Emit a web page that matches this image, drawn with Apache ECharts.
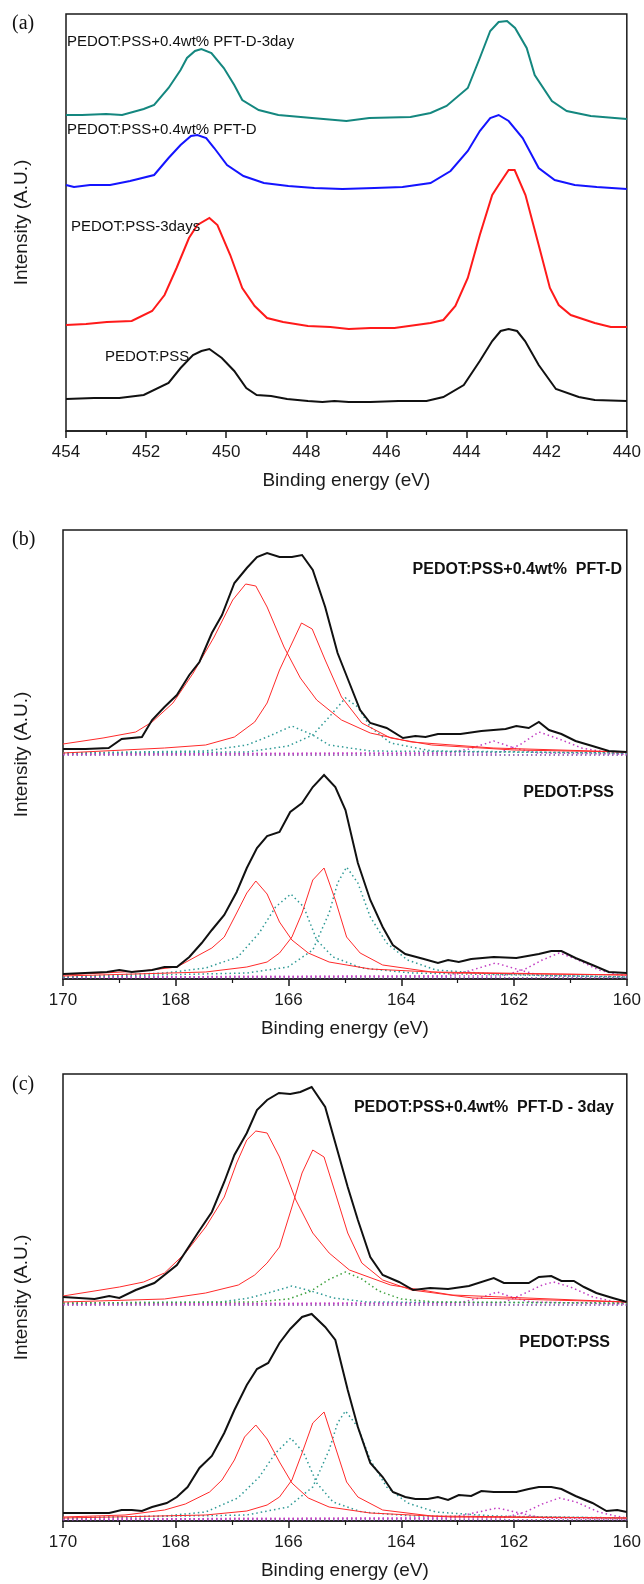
<!DOCTYPE html>
<html><head><meta charset="utf-8">
<script src="https://cdn.jsdelivr.net/npm/echarts@6/dist/echarts.min.js"></script>
<style>html,body{margin:0;padding:0;background:#fff}#c{width:644px;height:1584px}</style>
</head><body><div id="c"></div>
<script>
// ---------- Panel (a): Binding energy (eV) vs intensity (A.U.), offset spectra ----------
const A_black = [[454,32],[453.3,33],[452.67,33],[452.06,36],[451.44,48],[451.14,63],[450.83,76],[450.62,80],[450.42,82],[450.11,73],[449.8,60],[449.5,43],[449.24,36],[448.88,35],[448.48,32],[447.96,30],[447.6,29],[447.3,30],[446.94,29],[446.4,29],[445.7,30],[445.0,30],[444.58,34],[444.07,46],[443.67,70],[443.36,90],[443.15,100],[442.95,102],[442.74,100],[442.54,90],[442.2,66],[441.77,42],[441.2,34],[440.8,31],[440,30]];
const A_red = [[454,106],[453.5,107],[452.98,109],[452.36,110],[451.85,120],[451.54,136],[451.24,163],[450.93,193],[450.72,206],[450.42,213],[450.22,206],[449.9,176],[449.6,143],[449.29,125],[448.98,113],[448.58,109],[447.96,105],[447.4,104],[446.94,102],[446.4,103],[445.8,103],[444.9,108],[444.58,111],[444.28,125],[443.97,153],[443.67,196],[443.36,236],[443.2,246],[442.95,261],[442.8,261],[442.53,236],[442.2,186],[441.92,143],[441.7,126],[441.4,116],[440.8,108],[440.4,104],[440,104]];
const A_blue = [[454,246],[453.8,244],[453.4,246],[452.9,246],[452.4,250],[451.8,256],[451.44,273],[451.14,286],[450.88,295],[450.72,296],[450.5,293],[450.3,283],[449.98,266],[449.57,255],[449.06,248],[448.45,245],[447.8,243],[447.1,242],[446.3,243],[445.6,244],[444.9,248],[444.4,260],[443.97,280],[443.67,300],[443.41,313],[443.2,316],[442.95,310],[442.6,293],[442.2,263],[441.8,251],[441.3,246],[440.75,244],[440,242]];
const A_teal = [[454,316],[453.6,316],[453.0,317],[452.6,316],[452.06,322],[451.8,326],[451.44,343],[451.14,361],[450.98,373],[450.78,380],[450.62,382],[450.37,378],[450.06,363],[449.8,346],[449.6,331],[449.19,321],[448.7,316],[447.86,313],[447.0,310],[446.43,313],[445.4,314],[444.9,318],[444.5,325],[443.97,343],[443.67,373],[443.41,400],[443.2,409],[442.99,410],[442.79,403],[442.5,383],[442.3,356],[441.87,330],[441.5,320],[440.9,315],[440,312]];
const A_labels = ['PEDOT:PSS+0.4wt% PFT-D-3day','PEDOT:PSS+0.4wt% PFT-D','PEDOT:PSS-3days','PEDOT:PSS'];

// ---------- Panel (b): S 2p, upper = PEDOT:PSS+0.4wt% PFT-D, lower = PEDOT:PSS ----------
const B_up_black = [[170,230],[169.6,230],[169.19,231],[168.96,240],[168.6,242],[168.42,259],[168.2,272],[167.98,284],[167.76,304],[167.58,317],[167.36,346],[167.18,364],[166.96,396],[166.74,411],[166.56,422],[166.38,426],[166.16,422],[165.94,422],[165.76,424],[165.57,409],[165.35,372],[165.13,326],[164.92,296],[164.73,269],[164.55,256],[164.26,251],[163.97,241],[163.75,243],[163.57,242],[163.35,245],[162.95,245],[162.58,248],[162.15,250],[161.96,253],[161.74,251],[161.56,257],[161.38,249],[161.16,245],[160.91,238],[160.61,233],[160.32,228],[160,227]];
const B_up_red1 = [[170,235],[169.29,241],[168.71,247],[168.42,257],[168.05,276],[167.69,306],[167.32,342],[166.99,379],[166.76,395],[166.58,393],[166.38,372],[166.08,332],[165.79,301],[165.5,279],[165.06,259],[164.55,246],[163.82,237],[162.37,231],[160,227]];
const B_up_red2 = [[170,226],[168.2,231],[167.47,234],[166.96,242],[166.6,257],[166.38,276],[166.16,309],[165.97,332],[165.77,356],[165.58,350],[165.35,319],[165.06,282],[164.7,256],[164.19,241],[163.46,234],[162,229],[160,227]];
const B_up_tealA = [[170,226],[167.47,228],[166.74,234],[166.38,242],[165.94,253],[165.57,244],[165.28,234],[164.55,228],[160,226]];
const B_up_tealB = [[170,226],[166.74,227],[166.01,233],[165.57,244],[165.28,262],[164.99,281],[164.77,272],[164.55,252],[164.19,236],[163.46,228],[160,226]];
const B_up_mag1 = [[170,225],[163.2,226],[162.8,230],[162.36,238],[162.0,231],[161.6,226],[160,225]];
const B_up_mag2 = [[170,225],[162.3,226],[161.9,234],[161.56,247],[161.2,240],[160.8,231],[160.4,227],[160,225]];
const B_up_base = [[170,224],[160,224]];
const B_lo_black = [[170,5],[169.22,7],[169.0,9],[168.78,7],[168.42,9],[168.2,12],[167.98,12],[167.76,22],[167.54,36],[167.36,49],[167.14,64],[166.92,87],[166.74,111],[166.56,131],[166.38,143],[166.16,147],[165.97,167],[165.76,176],[165.57,192],[165.37,204],[165.17,192],[164.99,169],[164.77,116],[164.55,79],[164.33,52],[164.15,34],[163.93,25],[163.6,20],[163.35,16],[163.17,19],[162.98,17],[162.76,20],[162.36,22],[161.96,21],[161.56,25],[161.34,28],[161.16,28],[160.91,21],[160.61,14],[160.32,7],[160,6]];
const B_lo_red1 = [[170,4],[168.6,8],[167.98,12],[167.36,31],[167.14,42],[166.92,66],[166.74,86],[166.58,98],[166.38,85],[166.16,57],[165.94,39],[165.65,26],[165.28,17],[164.55,10],[163.1,6],[160,4]];
const B_lo_red2 = [[170,3],[167.47,7],[166.74,12],[166.38,17],[166.16,26],[165.94,42],[165.76,66],[165.57,99],[165.37,111],[165.17,79],[164.97,42],[164.73,26],[164.33,14],[163.46,7],[160,4]];
const B_lo_tealA = [[170,2],[168.2,6],[167.47,11],[166.9,22],[166.52,46],[166.23,72],[165.96,85],[165.73,72],[165.5,39],[165.21,22],[164.7,11],[163.82,6],[160,2]];
const B_lo_tealB = [[170,2],[166.74,6],[166.01,12],[165.57,29],[165.28,66],[165.13,96],[164.97,112],[164.77,96],[164.55,62],[164.26,36],[163.89,19],[163.39,9],[162.36,5],[160,2]];
const B_lo_mag1 = [[170,2],[163.2,3],[162.8,8],[162.33,16],[161.9,9],[161.5,3],[160,2]];
const B_lo_mag2 = [[170,2],[162.2,3],[161.8,10],[161.5,19],[161.2,26],[160.9,20],[160.5,9],[160.2,5],[160,3]];
const B_lo_base = [[170,1],[160,1]];
const B_labels = ['PEDOT:PSS+0.4wt%  PFT-D','PEDOT:PSS'];

// ---------- Panel (c): upper = PEDOT:PSS+0.4wt% PFT-D - 3day, lower = PEDOT:PSS ----------
const C_up_black = [[170,224],[169.44,222],[169.18,225],[169.0,223],[168.71,231],[168.38,238],[167.98,256],[167.61,288],[167.36,309],[167.14,339],[166.96,366],[166.74,388],[166.56,411],[166.38,421],[166.17,428],[165.97,427],[165.79,429],[165.59,434],[165.35,414],[165.17,378],[164.95,334],[164.77,301],[164.55,264],[164.33,246],[164.04,239],[163.79,231],[163.49,233],[163.17,232],[162.8,235],[162.36,243],[162.18,238],[161.74,238],[161.56,244],[161.34,245],[161.16,240],[160.94,240],[160.76,234],[160.54,228],[160.25,223],[160,219]];
const C_up_red1 = [[170,225],[169.0,234],[168.57,239],[168.2,248],[167.83,268],[167.47,294],[167.14,324],[166.92,358],[166.74,381],[166.58,390],[166.38,388],[166.16,364],[165.87,321],[165.57,288],[165.28,268],[164.92,251],[164.19,236],[163.1,226],[160,219]];
const C_up_red2 = [[170,219],[168.2,222],[167.47,228],[166.89,236],[166.6,246],[166.38,258],[166.16,274],[165.94,314],[165.76,348],[165.57,371],[165.37,364],[165.17,328],[164.95,288],[164.7,258],[164.33,241],[163.82,231],[162.73,223],[160,219]];
const C_up_tealA = [[170,218],[167.2,219],[166.7,223],[166.3,229],[165.94,235],[165.6,230],[165.2,223],[164.6,219],[160,218]];
const C_up_green = [[170,218],[166.6,219],[166.0,222],[165.6,230],[165.3,241],[164.99,249],[164.7,242],[164.4,230],[164.0,222],[163.4,219],[160,218]];
const C_up_mag1 = [[170,217],[163.0,218],[162.6,223],[162.3,229],[162.0,223],[161.7,219],[160,217]];
const C_up_mag2 = [[170,217],[162.2,218],[161.8,228],[161.5,236],[161.3,239],[161.0,234],[160.6,224],[160.2,219],[160,218]];
const C_up_base = [[170,216],[160,216]];
const C_lo_black = [[170,8],[169.18,8],[168.96,11],[168.78,11],[168.6,10],[168.42,14],[168.16,18],[167.98,24],[167.79,34],[167.58,53],[167.36,65],[167.14,88],[166.96,111],[166.74,136],[166.56,152],[166.36,158],[166.16,178],[165.97,192],[165.76,204],[165.59,207],[165.35,194],[165.17,181],[164.95,131],[164.77,94],[164.55,58],[164.33,44],[164.15,29],[163.93,24],[163.75,22],[163.53,22],[163.35,24],[163.17,21],[162.98,26],[162.76,25],[162.58,30],[162.36,29],[161.96,29],[161.74,32],[161.56,34],[161.34,34],[161.16,32],[160.91,25],[160.61,18],[160.36,10],[160.17,11],[160,9]];
const C_lo_red1 = [[170,4],[168.9,6],[168.2,11],[167.83,17],[167.4,29],[167.18,41],[166.96,61],[166.78,84],[166.58,96],[166.38,82],[166.16,59],[165.94,38],[165.65,23],[165.28,14],[164.55,8],[163.1,4],[160,3]];
const C_lo_red2 = [[170,3],[167.47,6],[166.74,10],[166.38,16],[166.16,24],[165.94,41],[165.76,68],[165.57,98],[165.37,109],[165.17,74],[164.97,39],[164.77,24],[164.33,11],[163.46,5],[160,3]];
const C_lo_tealA = [[170,3],[168.2,5],[167.47,9],[166.9,23],[166.52,44],[166.23,68],[165.96,83],[165.73,68],[165.5,38],[165.21,19],[164.7,9],[163.82,5],[160,3]];
const C_lo_tealB = [[170,3],[166.74,6],[166.01,14],[165.57,34],[165.28,71],[165.13,98],[164.99,110],[164.77,94],[164.55,61],[164.26,34],[163.89,18],[163.39,9],[162.36,5],[160,3]];
const C_lo_mag1 = [[170,2],[163.2,3],[162.8,7],[162.3,13],[161.9,8],[161.5,3],[160,2]];
const C_lo_mag2 = [[170,2],[162.2,3],[161.8,9],[161.5,17],[161.2,23],[160.9,19],[160.5,9],[160.2,5],[160,3]];
const C_lo_base = [[170,1],[160,1]];
const C_labels = ['PEDOT:PSS+0.4wt%  PFT-D - 3day','PEDOT:PSS'];

const panelTags = ['(a)','(b)','(c)'];
const xName = 'Binding energy (eV)';
const yName = 'Intensity (A.U.)';

// ---------- styling / layout ----------
const SANS = "'Liberation Sans', Arial, sans-serif";
const AX = '#1a1a1a';
const TEAL = '#2f9a96', MAG = '#c23cc2', GREEN = '#3ca03c', BASE = '#7a3fa0';
const DOT = [1.5, 3];

function line(data, idx, color, width, type, z) {
  return { type: 'line', data, xAxisIndex: idx, yAxisIndex: idx, showSymbol: false, symbol: 'none',
    silent: true, animation: false, z: z || 2,
    lineStyle: { color, width, type: type || 'solid', cap: 'butt', join: 'miter' } };
}

const grids = [
  { left: 66, right: 15, top: 14, height: 417 },
  { left: 63, right: 15, top: 530, height: 449 },
  { left: 63, right: 15, top: 1074, height: 447 }
].map(g => Object.assign({ show: true, borderColor: AX, borderWidth: 1.5, backgroundColor: 'transparent', containLabel: false }, g));

function xAxis(idx, min, max) {
  return { type: 'value', gridIndex: idx, inverse: true, min, max, interval: 2,
    name: xName, nameLocation: 'middle', nameGap: 40,
    nameTextStyle: { fontFamily: SANS, fontSize: 19, color: AX },
    axisLine: { show: true, onZero: false, lineStyle: { color: AX, width: 1.5 } },
    axisTick: { show: true, length: 7, lineStyle: { color: AX, width: 1.5 } },
    minorTick: { show: true, splitNumber: 2, length: 4, lineStyle: { color: AX, width: 1.2 } },
    splitLine: { show: false }, minorSplitLine: { show: false },
    axisLabel: { fontFamily: SANS, fontSize: 17, color: AX, margin: 13 } };
}
function yAxis(idx, max, gap) {
  return { type: 'value', gridIndex: idx, min: 0, max,
    name: yName, nameLocation: 'middle', nameGap: gap, nameRotate: 90,
    nameTextStyle: { fontFamily: SANS, fontSize: 19, color: AX },
    axisLine: { show: false }, axisTick: { show: false }, axisLabel: { show: false }, splitLine: { show: false } };
}

const series = [
  line(A_teal, 0, '#14877f', 2), line(A_blue, 0, '#1414ff', 2), line(A_red, 0, '#ff1a1a', 2), line(A_black, 0, '#111', 2),

  line(B_up_base, 1, BASE, 1.3, DOT), line(B_up_mag1, 1, MAG, 1.5, DOT), line(B_up_mag2, 1, MAG, 1.5, DOT),
  line(B_up_tealA, 1, TEAL, 1.5, DOT), line(B_up_tealB, 1, TEAL, 1.5, DOT),
  line(B_up_red1, 1, '#ff2a2a', 1), line(B_up_red2, 1, '#ff2a2a', 1), line(B_up_black, 1, '#111', 2, 'solid', 3),
  line(B_lo_base, 1, BASE, 1.3, DOT), line(B_lo_mag1, 1, MAG, 1.5, DOT), line(B_lo_mag2, 1, MAG, 1.5, DOT),
  line(B_lo_tealA, 1, TEAL, 1.5, DOT), line(B_lo_tealB, 1, TEAL, 1.5, DOT),
  line(B_lo_red1, 1, '#ff2a2a', 1), line(B_lo_red2, 1, '#ff2a2a', 1), line(B_lo_black, 1, '#111', 2, 'solid', 3),

  line(C_up_base, 2, BASE, 1.3, DOT), line(C_up_mag1, 2, MAG, 1.5, DOT), line(C_up_mag2, 2, MAG, 1.5, DOT),
  line(C_up_tealA, 2, TEAL, 1.5, DOT), line(C_up_green, 2, GREEN, 1.5, DOT),
  line(C_up_red1, 2, '#ff2a2a', 1), line(C_up_red2, 2, '#ff2a2a', 1), line(C_up_black, 2, '#111', 2, 'solid', 3),
  line(C_lo_base, 2, BASE, 1.3, DOT), line(C_lo_mag1, 2, MAG, 1.5, DOT), line(C_lo_mag2, 2, MAG, 1.5, DOT),
  line(C_lo_tealA, 2, TEAL, 1.5, DOT), line(C_lo_tealB, 2, TEAL, 1.5, DOT),
  line(C_lo_red1, 2, '#ff2a2a', 1), line(C_lo_red2, 2, '#ff2a2a', 1), line(C_lo_black, 2, '#111', 2, 'solid', 3)
];

function txt(text, x, y, opts) {
  return { type: 'text', x, y, silent: true, z: 100,
    style: Object.assign({ text, fill: '#111', font: '15px ' + SANS, textAlign: 'left', textVerticalAlign: 'middle', verticalAlign: 'middle' }, opts || {}) };
}
const BOLD = "bold 16px " + SANS;
const SERIF = "20px 'Liberation Serif', 'Times New Roman', serif";
const graphic = [
  txt(panelTags[0], 12, 24, { font: SERIF }),
  txt(panelTags[1], 12, 540, { font: SERIF }),
  txt(panelTags[2], 12, 1085, { font: SERIF }),
  txt(A_labels[0], 67, 42), txt(A_labels[1], 67, 130), txt(A_labels[2], 71, 227), txt(A_labels[3], 105, 357),
  txt(B_labels[0], 622, 570, { font: BOLD, textAlign: 'right' }),
  txt(B_labels[1], 614, 793, { font: BOLD, textAlign: 'right' }),
  txt(C_labels[0], 614, 1108, { font: BOLD, textAlign: 'right' }),
  txt(C_labels[1], 610, 1343, { font: BOLD, textAlign: 'right' })
];

const chart = echarts.init(document.getElementById('c'), null, { renderer: 'canvas' });
chart.setOption({
  animation: false,
  backgroundColor: '#fff',
  grid: grids,
  xAxis: [xAxis(0, 440, 454), xAxis(1, 160, 170), xAxis(2, 160, 170)],
  yAxis: [yAxis(0, 417, 35), yAxis(1, 449, 32), yAxis(2, 447, 32)],
  series,
  graphic
});
</script></body></html>
